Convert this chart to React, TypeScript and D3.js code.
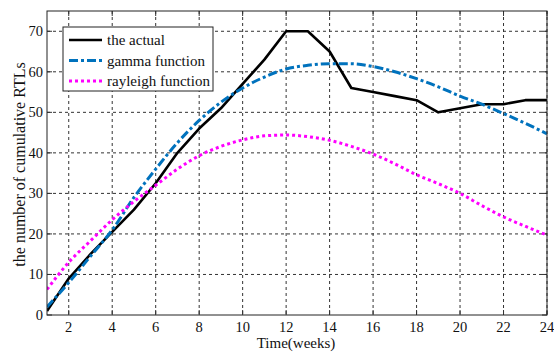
import React from "react";
import * as d3 from "d3";

const weeks = d3.range(1, 25);
const actual = [1, 9, 15, 20.5, 26, 32.5, 40, 46, 51, 57, 63, 70, 70, 65, 56, 55, 54, 53, 50, 51, 52, 52, 53, 53];
const gamma = [2, 8, 14.5, 21, 29, 36, 42.5, 48, 52.5, 56, 58.7, 60.7, 61.6, 62, 62, 61.3, 60, 58.3, 56.3, 54, 52, 49.7, 47.3, 44.7];
const rayleigh = [6.3, 13, 18.3, 23.5, 28, 32, 36, 39.3, 41.6, 43.2, 44.2, 44.4, 44, 43.1, 41.6, 39.7, 37.3, 34.6, 32.4, 30, 27, 24.2, 21.9, 19.7];
const xTicks = [2, 4, 6, 8, 10, 12, 14, 16, 18, 20, 22, 24];
const yTicks = [0, 10, 20, 30, 40, 50, 60, 70];
const seriesNames = ["the actual", "gamma function", "rayleigh function"];

const W = 554, H = 352;
const m = { left: 47, right: 547, top: 11, bottom: 315 };
const font = "'Liberation Serif', 'Times New Roman', serif";

export default function App() {
  const x = d3.scaleLinear().domain([1, 24]).range([m.left, m.right]);
  const y = d3.scaleLinear().domain([0, 75]).range([m.bottom, m.top]);
  const line = d3.line<number>().x((_, i) => x(weeks[i])).y((d) => y(d));
  const curve = d3.line<number>().x((_, i) => x(weeks[i])).y((d) => y(d)).curve(d3.curveMonotoneX);
  const styles = [
    { color: "#000000", dash: "none", w: 2.6 },
    { color: "#0072BD", dash: "9,3,3,3", w: 3 },
    { color: "#FF00FF", dash: "3,3", w: 3 },
  ];
  const paths = [line(actual), curve(gamma), curve(rayleigh)];
  return (
    <svg width={W} height={H} style={{ position: "absolute", left: 0, top: 0, background: "#fff" }}>
      <defs>
        <clipPath id="clip">
          <rect x={m.left} y={m.top} width={m.right - m.left} height={m.bottom - m.top} />
        </clipPath>
      </defs>
      <rect x={0} y={0} width={W} height={H} fill="#fff" />
      {xTicks.map((t) => (
        <g key={"x" + t}>
          <line x1={x(t)} x2={x(t)} y1={m.top} y2={m.bottom} stroke="#333" strokeWidth={1} strokeDasharray="3,3" />
          <line x1={x(t)} x2={x(t)} y1={m.bottom} y2={m.bottom - 5} stroke="#333" />
          <line x1={x(t)} x2={x(t)} y1={m.top} y2={m.top + 5} stroke="#333" />
          <text x={x(t)} y={m.bottom + 16.5} textAnchor="middle" fontFamily={font} fontSize={14.5} fill="#111">{t}</text>
        </g>
      ))}
      {yTicks.map((t) => (
        <g key={"y" + t}>
          {t > 0 && <line x1={m.left} x2={m.right} y1={y(t)} y2={y(t)} stroke="#333" strokeWidth={1} strokeDasharray="3,3" />}
          <line x1={m.left} x2={m.left + 5} y1={y(t)} y2={y(t)} stroke="#333" />
          <line x1={m.right} x2={m.right - 5} y1={y(t)} y2={y(t)} stroke="#333" />
          <text x={m.left - 4} y={y(t) + 5} textAnchor="end" fontFamily={font} fontSize={14.5} fill="#111">{t}</text>
        </g>
      ))}
      <g clipPath="url(#clip)">
        {paths.map((p, i) => (
          <path key={i} d={p || ""} fill="none" stroke={styles[i].color} strokeWidth={styles[i].w} strokeDasharray={styles[i].dash} strokeLinejoin="round" />
        ))}
      </g>
      <rect x={m.left} y={m.top} width={m.right - m.left} height={m.bottom - m.top} fill="none" stroke="#222" strokeWidth={1} />
      <g>
        <rect x={63} y={27} width={150} height={64} fill="#fff" stroke="#222" strokeWidth={1} />
        {seriesNames.map((n, i) => (
          <g key={n}>
            <line x1={69} x2={102} y1={40 + i * 20.5} y2={40 + i * 20.5} stroke={styles[i].color} strokeWidth={styles[i].w} strokeDasharray={styles[i].dash} />
            <text x={107} y={40 + i * 20.5 + 5} fontFamily={font} fontSize={15} fill="#111">{n}</text>
          </g>
        ))}
      </g>
      <text x={296} y={348} textAnchor="middle" fontFamily={font} fontSize={15} fill="#111">Time(weeks)</text>
      <text transform={`translate(25, 164.5) rotate(-90)`} textAnchor="middle" fontFamily={font} fontSize={16} fill="#111">the number of cumulative RTLs</text>
    </svg>
  );
}
